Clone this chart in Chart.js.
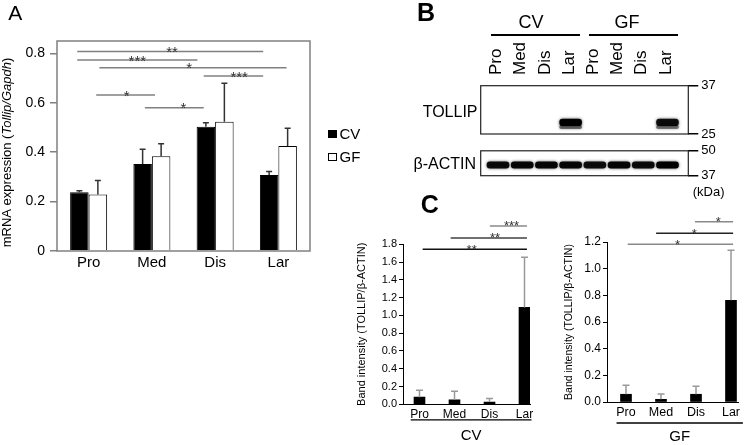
<!DOCTYPE html>
<html><head><meta charset="utf-8">
<script src="https://cdn.jsdelivr.net/npm/chart.js@4.4.1/dist/chart.umd.min.js"></script>
<style>
html,body{margin:0;padding:0;background:#fff;}
#wrap{position:relative;width:749px;height:445px;overflow:hidden;background:#fff;font-family:"Liberation Sans",Arial,sans-serif;color:#000;}
canvas{position:absolute;}
.t{position:absolute;white-space:nowrap;line-height:1;}
.hl{position:absolute;height:2px;background:#000;}
</style></head>
<body><div id="wrap">
<canvas id="cA" width="370" height="290" style="left:0;top:0"></canvas>
<canvas id="cB1" width="349" height="145" style="left:400px;top:0"></canvas>
<canvas id="cB2" width="349" height="60" style="left:400px;top:140px"></canvas>
<canvas id="cC1" width="215" height="255" style="left:330px;top:190px"></canvas>
<canvas id="cC2" width="204" height="255" style="left:545px;top:190px"></canvas>
</div>
<script>
// ---------- data ----------
const categories = ['Pro', 'Med', 'Dis', 'Lar'];
const groups = ['CV', 'GF'];

// Panel A: mRNA expression (Tollip/Gapdh)
const mrnaCV = [0.238, 0.352, 0.503, 0.308];
const mrnaGF = [0.229, 0.384, 0.523, 0.425];
const mrnaCVsd = [0.006, 0.060, 0.016, 0.014];
const mrnaGFsd = [0.056, 0.050, 0.156, 0.072];
const mrnaTicks = [0, 0.2, 0.4, 0.6, 0.8];
const sigAFrom = [-0.18, -0.18, 0.17, 1.82, 0.12, 0.89];
const sigATo = [2.76, 1.72, 3.13, 2.76, 1.05, 1.82];
const sigALevel = [0.807, 0.773, 0.742, 0.708, 0.631, 0.580];
const sigAStars = ['**', '***', '*', '***', '*', '*'];
const sigAAt = [1.32, 0.77, 1.59, 2.38, 0.60, 1.50];

// Panel B: western blot
const lanes = ['Pro', 'Med', 'Dis', 'Lar', 'Pro', 'Med', 'Dis', 'Lar'];
const tollipSignal = [0, 0, 0, 1.0, 0, 0, 0, 0.9];
const actinSignal = [0.92, 0.95, 0.95, 0.95, 0.9, 0.97, 0.92, 1.0];
const kdaTollip = ['37', '25'];
const kdaActin = ['50', '37'];

// Panel C: band intensity (TOLLIP/β-ACTIN)
const cvIntensity = [0.080, 0.050, 0.025, 1.090];
const cvIntensitySd = [0.077, 0.096, 0.039, 0.563];
const gfIntensity = [0.058, 0.020, 0.058, 0.763];
const gfIntensitySd = [0.068, 0.040, 0.060, 0.375];
const cvTicks = [0, 0.2, 0.4, 0.6, 0.8, 1.0, 1.2, 1.4, 1.6, 1.8];
const gfTicks = [0, 0.2, 0.4, 0.6, 0.8, 1.0, 1.2];
const sigCVFrom = [2.01, 0.89, 0.09];
const sigCVTo = [3.07, 3.07, 3.07];
const sigCVLevel = [2.006, 1.871, 1.743];
const sigCVStars = ['***', '**', '**'];
const sigCVAt = [2.63, 2.16, 1.49];
const sigGFFrom = [1.97, 0.86, 0.05];
const sigGFTo = [3.06, 3.06, 3.06];
const sigGFLevel = [1.352, 1.265, 1.183];
const sigGFStars = ['*', '*', '*'];
const sigGFAt = [2.64, 1.95, 1.47];

// ---------- helpers ----------
const FONT = '"Liberation Sans", Arial, sans-serif';
Chart.defaults.font.family = FONT;
Chart.defaults.color = '#000';
const wrap = document.getElementById('wrap');
function txt(s, x, cy, size, align, weight) {
  const d = document.createElement('div');
  d.className = 't'; d.textContent = s;
  d.style.fontSize = size + 'px';
  d.style.fontWeight = weight || 'normal';
  d.style.top = (cy - 0.4885 * size) + 'px';
  if (align === 'center') { d.style.left = x + 'px'; d.style.transform = 'translateX(-50%)'; }
  else if (align === 'right') { d.style.right = (749 - x) + 'px'; }
  else { d.style.left = x + 'px'; }
  wrap.appendChild(d);
}
function hline(x1, x2, y) {
  const d = document.createElement('div'); d.className = 'hl';
  d.style.left = x1 + 'px'; d.style.width = (x2 - x1) + 'px'; d.style.top = (y - 1) + 'px';
  wrap.appendChild(d);
}
function errPlugin(color, width, cap) {
  return { id: 'errBars', afterDatasetsDraw(chart) {
    const ctx = chart.ctx, ys = chart.scales.y;
    chart.data.datasets.forEach((ds, di) => {
      if (!ds.err) return;
      chart.getDatasetMeta(di).data.forEach((el, i) => {
        const raw = ds.data[i]; const v = (typeof raw === 'object') ? raw.y : raw;
        const yt = ys.getPixelForValue(v + ds.err[i]);
        ctx.save(); ctx.strokeStyle = color; ctx.lineWidth = width;
        ctx.beginPath(); ctx.moveTo(el.x, el.y); ctx.lineTo(el.x, yt);
        ctx.moveTo(el.x - cap, yt); ctx.lineTo(el.x + cap, yt); ctx.stroke(); ctx.restore();
      });
    });
  }};
}
function sigPlugin(from, to, level, stars, at, colors, starSize, dy) {
  return { id: 'sig', afterDraw(chart) {
    const ctx = chart.ctx, xs = chart.scales.x, ys = chart.scales.y;
    from.forEach((f, i) => {
      const y = ys.getPixelForValue(level[i]);
      ctx.save(); ctx.strokeStyle = colors[i]; ctx.lineWidth = 1.5;
      ctx.beginPath(); ctx.moveTo(xs.getPixelForValue(f), y); ctx.lineTo(xs.getPixelForValue(to[i]), y); ctx.stroke();
      ctx.fillStyle = '#333'; ctx.font = starSize + 'px ' + FONT; ctx.textAlign = 'center'; ctx.textBaseline = 'alphabetic';
      ctx.fillText(stars[i], xs.getPixelForValue(at[i]), y + dy);
      ctx.restore();
    });
  }};
}

// ---------- Panel A ----------
const boxA = { id: 'boxA', afterDraw(chart) {
  const a = chart.chartArea, ctx = chart.ctx;
  ctx.save(); ctx.strokeStyle = '#808080'; ctx.lineWidth = 1.5;
  ctx.strokeRect(a.left, a.top, a.right - a.left, a.bottom - a.top); ctx.restore();
}};
const yTitleA = { id: 'yTitleA', afterDraw(chart) {
  const ctx = chart.ctx;
  const parts = [['mRNA expression (', 'normal'], ['Tollip/Gapdh', 'italic'], [')', 'normal']];
  ctx.save(); ctx.translate(7.5, 152.5); ctx.rotate(-Math.PI / 2);
  let total = 0;
  parts.forEach(p => { ctx.font = p[1] + ' 13px ' + FONT; total += ctx.measureText(p[0]).width; });
  let x = -total / 2; ctx.textBaseline = 'middle'; ctx.fillStyle = '#000';
  parts.forEach(p => { ctx.font = p[1] + ' 13px ' + FONT; ctx.fillText(p[0], x, 0); x += ctx.measureText(p[0]).width; });
  ctx.restore();
}};
const legendA = { id: 'legendA', afterDraw(chart) {
  const ctx = chart.ctx;
  chart.data.datasets.forEach((ds, i) => {
    const y = 134 + 23 * i;
    ctx.save();
    ctx.fillStyle = ds.backgroundColor; ctx.fillRect(328.5, y - 3.5, 8, 7);
    ctx.strokeStyle = '#000'; ctx.lineWidth = 1; ctx.strokeRect(328.5, y - 3.5, 8, 7);
    ctx.fillStyle = '#000'; ctx.font = '15px ' + FONT; ctx.textBaseline = 'middle';
    ctx.fillText(ds.label, 339.5, y + 0.5);
    ctx.restore();
  });
}};
new Chart(document.getElementById('cA'), {
  type: 'bar',
  data: { labels: categories, datasets: [
    { label: groups[0], data: mrnaCV, backgroundColor: '#000', borderColor: '#000', borderWidth: 1, err: mrnaCVsd },
    { label: groups[1], data: mrnaGF, backgroundColor: '#fff', borderColor: '#000', borderWidth: 1, err: mrnaGFsd }
  ]},
  options: {
    responsive: false, animation: false, devicePixelRatio: 1,
    layout: { padding: { left: 0, top: 41, right: 60, bottom: 0 } },
    plugins: { legend: { display: false }, tooltip: { enabled: false } },
    datasets: { bar: { categoryPercentage: 0.585, barPercentage: 1 } },
    scales: {
      x: { grid: { display: false, drawTicks: false }, border: { display: false },
           ticks: { font: { size: 15 }, color: '#000', padding: 3 },
           afterFit: s => { s.height = 39; } },
      y: { min: 0, max: 0.85,
           afterBuildTicks: s => { s.ticks = mrnaTicks.map(v => ({ value: v })); },
           ticks: { font: { size: 14 }, color: '#000', padding: 5, callback: v => v === 0 ? '0' : v.toFixed(1) },
           grid: { drawOnChartArea: false, tickLength: 7, color: '#808080', lineWidth: 1.5 },
           border: { display: false },
           afterFit: s => { s.width = 57; } }
    }
  },
  plugins: [boxA, errPlugin('#333', 1.5, 3),
    sigPlugin(sigAFrom, sigATo, sigALevel, sigAStars, sigAAt, ['#808080','#808080','#808080','#808080','#808080','#808080'], 15, 5.5),
    yTitleA, legendA]
});

// ---------- Panel B ----------
const blotBox = { id: 'blotBox', afterDraw(chart) {
  const a = chart.chartArea, ctx = chart.ctx;
  ctx.save(); ctx.strokeStyle = '#222'; ctx.lineWidth = 1.2;
  ctx.strokeRect(a.left, a.top, a.right - a.left, a.bottom - a.top); ctx.restore();
}};
const blur = { id: 'blur',
  beforeDatasetsDraw(chart) { chart.ctx.save(); chart.ctx.shadowColor = 'rgba(0,0,0,0.7)'; chart.ctx.shadowBlur = 3; },
  afterDatasetsDraw(chart) { chart.ctx.restore(); }
};
const laneLabels = { id: 'laneLabels', afterDraw(chart) {
  const ctx = chart.ctx, xs = chart.scales.x;
  lanes.forEach((l, i) => {
    ctx.save(); ctx.translate(xs.getPixelForValue(i) - 1.5, 75); ctx.rotate(-Math.PI / 2);
    ctx.font = '17px ' + FONT; ctx.fillStyle = '#000'; ctx.textAlign = 'left'; ctx.textBaseline = 'middle';
    ctx.fillText(l, 0, 0); ctx.restore();
  });
}};
const laneMin = -0.715, laneMax = 7.86;
function laneAxis() {
  return { type: 'linear', display: false, offset: false, min: laneMin, max: laneMax, grid: { offset: false } };
}
function kdaAxis(labels, w) {
  return { position: 'right', min: 0, max: 1,
    afterBuildTicks: s => { s.ticks = [{ value: 1 }, { value: 0 }]; },
    ticks: { callback: (v) => v === 1 ? labels[0] : labels[1], font: { size: 13 }, color: '#000', padding: 3 },
    grid: { drawOnChartArea: false, tickLength: 10, color: '#000', lineWidth: 1.5 },
    border: { display: false },
    afterFit: s => { s.width = w; } };
}
new Chart(document.getElementById('cB1'), {
  type: 'bar',
  data: { datasets: [
    { data: lanes.map((l, i) => ({ x: i, y: [0.17, 0.31] })), backgroundColor: tollipSignal.map(s => 'rgba(0,0,0,' + s + ')'),
      barThickness: 22, borderRadius: 5, borderSkipped: false, grouped: false },
    { data: lanes.map((l, i) => ({ x: i, y: [0.11, 0.18] })), backgroundColor: tollipSignal.map(s => 'rgba(30,30,30,' + (s * 0.55) + ')'),
      barThickness: 22, borderRadius: 3, borderSkipped: false, grouped: false }
  ]},
  options: {
    responsive: false, animation: false, devicePixelRatio: 1,
    layout: { padding: { left: 80.7, top: 85.7, right: 0, bottom: 11 } },
    plugins: { legend: { display: false }, tooltip: { enabled: false } },
    scales: { x: laneAxis(), y: kdaAxis(kdaTollip, 60.7) }
  },
  plugins: [blur, blotBox, laneLabels]
});
new Chart(document.getElementById('cB2'), {
  type: 'bar',
  data: { datasets: [
    { data: lanes.map((l, i) => ({ x: i, y: [0.30, 0.56] })), backgroundColor: actinSignal.map(s => 'rgba(0,0,0,' + s + ')'),
      barThickness: 22, borderRadius: 4, borderSkipped: false }
  ]},
  options: {
    responsive: false, animation: false, devicePixelRatio: 1,
    layout: { padding: { left: 80.7, top: 10, right: 0, bottom: 24.3 } },
    plugins: { legend: { display: false }, tooltip: { enabled: false } },
    scales: { x: laneAxis(), y: kdaAxis(kdaActin, 60.7) }
  },
  plugins: [blur, blotBox]
});

// ---------- Panel C ----------
function groupPlugin(label, from, to, lineDy, textDy, size) {
  return { id: 'grp', afterDraw(chart) {
    const ctx = chart.ctx, xs = chart.scales.x, b = chart.chartArea.bottom;
    const x1 = xs.getPixelForValue(from), x2 = xs.getPixelForValue(to);
    ctx.save(); ctx.strokeStyle = '#000'; ctx.lineWidth = 1.3;
    ctx.beginPath(); ctx.moveTo(x1, b + lineDy); ctx.lineTo(x2, b + lineDy); ctx.stroke();
    ctx.fillStyle = '#000'; ctx.font = size + 'px ' + FONT; ctx.textAlign = 'center'; ctx.textBaseline = 'middle';
    ctx.fillText(label, (x1 + x2) / 2, b + textDy);
    ctx.restore();
  }};
}
function makeC(id, vals, sds, ticks, o, plugins) {
  return new Chart(document.getElementById(id), {
    type: 'bar',
    data: { datasets: [{ data: vals.map((v, i) => ({ x: i, y: v })), backgroundColor: '#000', barThickness: 11, err: sds }] },
    options: {
      responsive: false, animation: false, devicePixelRatio: 1,
      layout: { padding: { left: 0, top: o.top, right: o.right, bottom: 0 } },
      plugins: { legend: { display: false }, tooltip: { enabled: false } },
      scales: {
        x: { type: 'linear', offset: false, min: o.xmin, max: o.xmax,
             afterBuildTicks: s => { s.ticks = categories.map((c, i) => ({ value: i })); },
             ticks: { callback: v => categories[v], font: { size: o.xfont }, color: '#000', padding: 3, autoSkip: false, maxRotation: 0 },
             grid: { display: false, drawTicks: false, offset: false }, border: { color: '#000', width: 1 },
             afterFit: s => { s.height = o.xh; } },
        y: { min: 0, max: ticks[ticks.length - 1],
             afterBuildTicks: s => { s.ticks = ticks.map(v => ({ value: v })); },
             ticks: { callback: v => v.toFixed(1), font: { size: o.yfont }, color: '#000', padding: 2 },
             grid: { drawOnChartArea: false, tickLength: 4, color: '#000' },
             border: { color: '#000', width: 1 },
             title: { display: true, text: 'Band intensity (TOLLIP/β-ACTIN)', font: { size: o.tfont }, color: '#000', padding: { top: o.tpad, bottom: 0 } },
             afterFit: s => { s.width = o.yw; } }
      }
    },
    plugins: plugins
  });
}
makeC('cC1', cvIntensity, cvIntensitySd, cvTicks,
  { top: 54.3, right: 15, xmin: -0.471, xmax: 3.157, xfont: 12, yfont: 11, tfont: 11, tpad: 25.4, yw: 73, xh: 40.7 },
  [errPlugin('#999', 1.5, 3.5),
   sigPlugin(sigCVFrom, sigCVTo, sigCVLevel, sigCVStars, sigCVAt, ['#8a8a8a', '#404040', '#111'], 13, 4.5),
   groupPlugin(groups[0], -0.25, 3.2, 15.5, 31.5, 15)]);
makeC('cC2', gfIntensity, gfIntensitySd, gfTicks,
  { top: 52, right: 11, xmin: -0.543, xmax: 3.2, xfont: 12.5, yfont: 12, tfont: 10.5, tpad: 17.4, yw: 62, xh: 43 },
  [errPlugin('#999', 1.5, 3.5),
   sigPlugin(sigGFFrom, sigGFTo, sigGFLevel, sigGFStars, sigGFAt, ['#8a8a8a', '#222', '#8a8a8a'], 13, 4.5),
   groupPlugin(groups[1], -0.27, 3.34, 21, 35, 15)]);

// ---------- panel letters & blot labels ----------
txt('A', 8.3, 12.5, 21, 'left');
txt('B', 417, 12.5, 25, 'left', 'bold');
txt('C', 420.7, 204, 25, 'left', 'bold');
txt(groups[0], 531, 21.7, 18, 'center');
txt(groups[1], 627, 21.7, 18, 'center');
hline(490.7, 580, 35);
hline(589, 677.7, 35);
txt('TOLLIP', 477.5, 111.7, 16, 'right');
txt('β-ACTIN', 476, 164, 16, 'right');
txt('(kDa)', 692.7, 191, 13, 'left');
</script>
</body></html>
